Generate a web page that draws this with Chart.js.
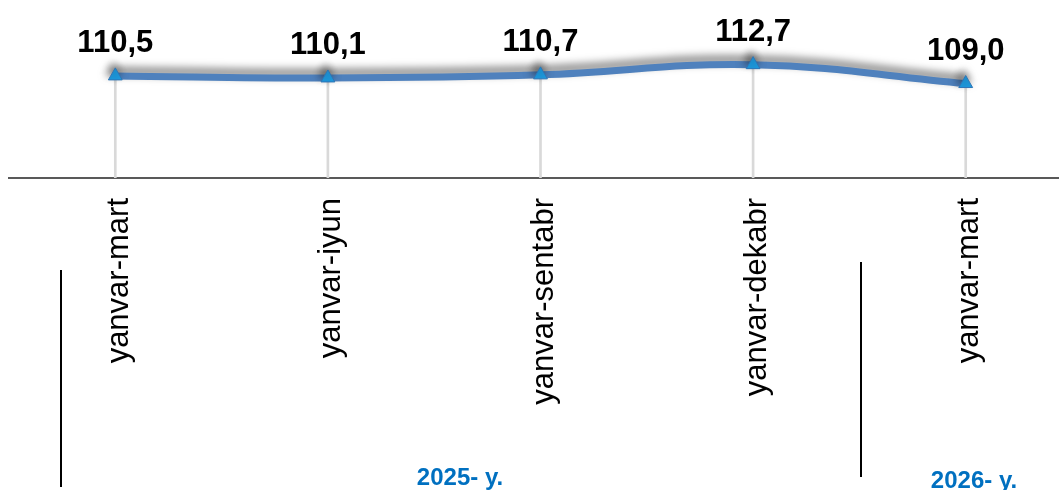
<!DOCTYPE html>
<html>
<head>
<meta charset="utf-8">
<script src="https://cdn.jsdelivr.net/npm/chart.js@4.4.1/dist/chart.umd.min.js"></script>
<style>
  html, body { margin: 0; padding: 0; background: #fff; overflow: hidden; width: 1059px; height: 490px; }
  #wrap { position: absolute; left: 0; top: 0; width: 1081px; height: 490px; }
  .sep { position: absolute; width: 2px; background: #000; }
  .year { position: absolute; font-family: 'Liberation Sans', Arial, sans-serif; font-weight: bold; font-size: 24px; color: #0070C0; white-space: nowrap; transform: translateX(-50%); line-height: 1; }
</style>
</head>
<body>
<div id="wrap"><canvas id="c" width="1081" height="490"></canvas></div>
<div class="sep" style="left:60px; top:270px; height:217px;"></div>
<div class="sep" style="left:860px; top:262px; height:215px;"></div>
<div class="year" id="y1" style="left:460px; top:465px;"></div>
<div class="year" id="y2" style="left:974px; top:468px;"></div>
<script>
const categories = ['yanvar-mart', 'yanvar-iyun', 'yanvar-sentabr', 'yanvar-dekabr', 'yanvar-mart'];
const values = [110.5, 110.1, 110.7, 112.7, 109.0];
const valueLabels = ['110,5', '110,1', '110,7', '112,7', '109,0'];
const yearLabels = ['2025- y.', '2026- y.'];

document.getElementById('y1').textContent = yearLabels[0];
document.getElementById('y2').textContent = yearLabels[1];

const Y_MIN = 90.5, Y_MAX = 123.6;

const shadowPlugin = {
  id: 'lineShadow',
  beforeDatasetDraw(chart, args) {
    if (args.index === 0) {
      const ctx = chart.ctx;
      ctx.save();
      ctx.shadowColor = 'rgba(0,0,0,0.55)';
      ctx.shadowBlur = 9;
      ctx.shadowOffsetX = -2;
      ctx.shadowOffsetY = -5;
    }
  },
  afterDatasetDraw(chart, args) {
    if (args.index === 0) chart.ctx.restore();
  }
};

const labelPlugin = {
  id: 'valueLabels',
  afterDatasetsDraw(chart) {
    const ctx = chart.ctx;
    const meta = chart.getDatasetMeta(0);
    ctx.save();
    ctx.font = "bold 31px 'Liberation Sans', Arial, sans-serif";
    ctx.fillStyle = '#000';
    ctx.textAlign = 'center';
    ctx.textBaseline = 'middle';
    meta.data.forEach((pt, i) => {
      ctx.fillText(valueLabels[i], pt.x, pt.y - 32);
    });
    ctx.restore();
  }
};

new Chart(document.getElementById('c'), {
  data: {
    labels: categories,
    datasets: [
      {
        type: 'line',
        data: values,
        borderColor: '#4F81BD',
        borderWidth: 7,
        tension: 0.4,
        fill: false,
        pointStyle: 'triangle',
        pointRadius: 8,
        pointBackgroundColor: '#1E9BE0',
        pointBorderColor: '#2E75B6',
        pointBorderWidth: 1,
        order: 0
      },
      {
        type: 'bar',
        data: values,
        backgroundColor: '#D9D9D9',
        barThickness: 2,
        order: 1
      }
    ]
  },
  options: {
    responsive: false,
    animation: false,
    layout: { padding: { left: 8, right: 0, top: 0, bottom: 0 } },
    plugins: { legend: { display: false }, tooltip: { enabled: false } },
    scales: {
      x: {
        offset: true,
        grid: { display: false, drawTicks: false },
        border: { display: true, color: '#595959', width: 2 },
        ticks: {
          autoSkip: false,
          minRotation: 90,
          maxRotation: 90,
          padding: 20,
          labelOffset: 4,
          color: '#000',
          font: { family: "'Liberation Sans', Arial, sans-serif", size: 31 }
        },
        afterFit(scale) { scale.height = 312; }
      },
      y: {
        display: false,
        min: Y_MIN,
        max: Y_MAX
      }
    }
  },
  plugins: [shadowPlugin, labelPlugin]
});
</script>
</body>
</html>
